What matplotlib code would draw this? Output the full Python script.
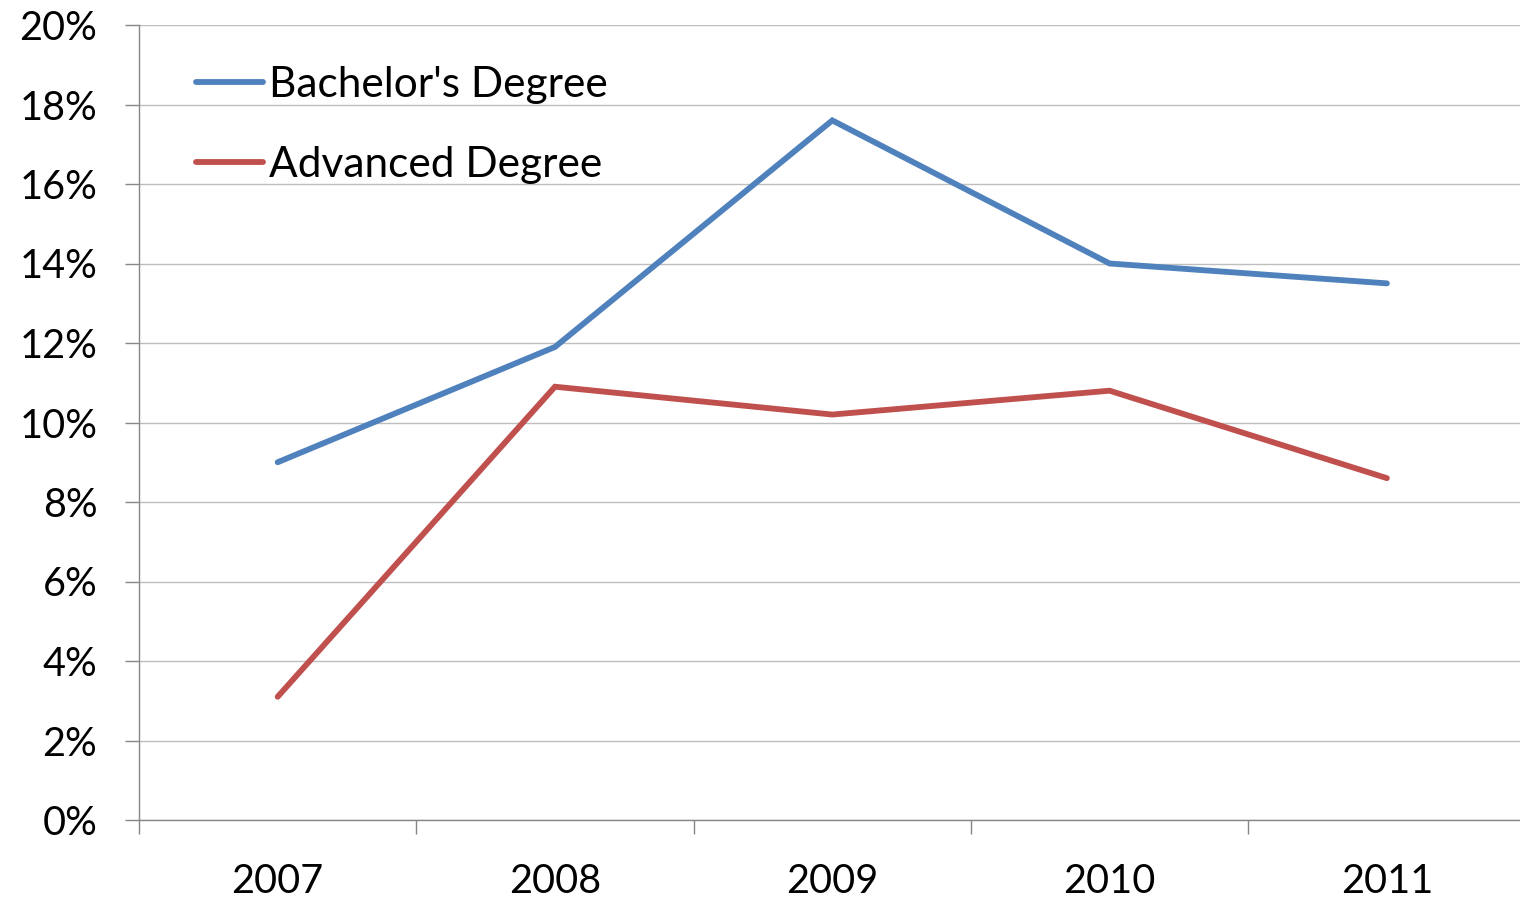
import matplotlib
matplotlib.use("Agg")
import matplotlib.pyplot as plt
from matplotlib.ticker import FixedLocator, PercentFormatter

years = ["2007", "2008", "2009", "2010", "2011"]
bachelor = [9.0, 11.9, 17.6, 14.0, 13.5]
advanced = [3.1, 10.9, 10.2, 10.8, 8.6]
yticks = [0, 2, 4, 6, 8, 10, 12, 14, 16, 18, 20]

plt.rcParams['font.family'] = ['Lato', 'DejaVu Sans']

fig = plt.figure(figsize=(15.2, 8.99), dpi=100)
ax = fig.add_axes([139/1520, 1 - 820/899, 1 - 139/1520, (820 - 25)/899])

x = list(range(len(years)))
ax.plot(x, bachelor, color='#4F81BD', lw=4.2, label="Bachelor's Degree",
        solid_capstyle='round', solid_joinstyle='miter')
ax.plot(x, advanced, color='#C0504D', lw=4.2, label="Advanced Degree",
        solid_capstyle='round', solid_joinstyle='miter')

ax.set_xlim(-0.5, 4.48)
ax.set_ylim(0, 20)
ax.set_yticks(yticks)
ax.yaxis.set_major_formatter(PercentFormatter(decimals=0))
ax.grid(axis='y', color='#BEBEBE', lw=1)
ax.set_axisbelow(True)

ax.set_xticks(x)
ax.set_xticklabels(years)
ax.xaxis.set_minor_locator(FixedLocator([i - 0.5 for i in range(len(years) + 1)]))
ax.tick_params(axis='x', which='major', length=0, pad=31, labelsize=28.5)
ax.tick_params(axis='x', which='minor', length=10, width=1, color='#868686', direction='out')
ax.tick_params(axis='y', length=10, width=1, color='#868686', labelsize=28.5, pad=20)

for s in ['top', 'right']:
    ax.spines[s].set_visible(False)
for s in ['left', 'bottom']:
    ax.spines[s].set_color('#868686')
    ax.spines[s].set_linewidth(1)

leg = ax.legend(loc='upper left', bbox_to_anchor=(0.014, 0.996), frameon=False,
                fontsize=30.5, handlelength=1.58, handletextpad=0.14, labelspacing=0.98)

fig.savefig('out.png', dpi=100)
